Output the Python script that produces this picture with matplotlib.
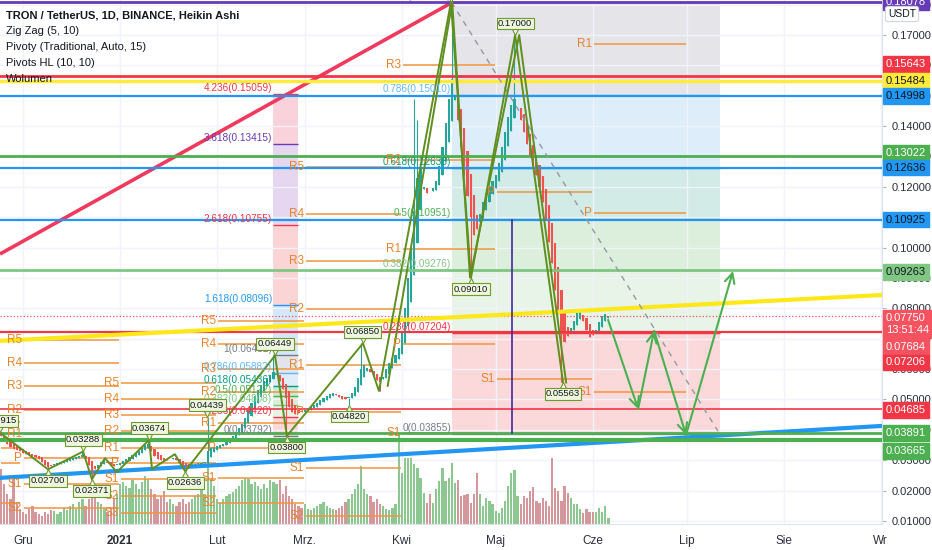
import matplotlib
matplotlib.use('Agg')
import matplotlib.pyplot as plt
import matplotlib.transforms as mtransforms
import numpy as np
import logging
logging.getLogger('matplotlib.font_manager').setLevel(logging.ERROR)

plt.rcParams['font.family'] = ['Liberation Sans', 'DejaVu Sans']

# ---------------- data (day 0 = 1 Dec 2020) ----------------
first_day = -8
first_open = 0.0392
closes = [
    0.0385, 0.0380, 0.0372, 0.0355, 0.0345, 0.0338, 0.0335, 0.0330,
    0.0325, 0.0322, 0.0318, 0.0315, 0.0310, 0.0305, 0.0295, 0.0285, 0.0278, 0.0282,
    0.0288, 0.0292, 0.0295, 0.0298, 0.0300, 0.0303, 0.0307, 0.0310, 0.0315, 0.0318,
    0.0308, 0.0285, 0.0265, 0.0270, 0.0285, 0.0295, 0.0300, 0.0292, 0.0285, 0.0280,
    0.0285, 0.0290, 0.0298, 0.0305, 0.0312, 0.0318, 0.0325, 0.0332, 0.0340, 0.0350,
    0.0352, 0.0330, 0.0315, 0.0305, 0.0300, 0.0298, 0.0302, 0.0305, 0.0308, 0.0300,
    0.0292, 0.0285, 0.0280, 0.0283, 0.0285, 0.0288, 0.0290, 0.0292, 0.0295, 0.0330,
    0.0340, 0.0345, 0.0348, 0.0350, 0.0355, 0.0362, 0.0370, 0.0380, 0.0392, 0.0405,
    0.0420, 0.0440, 0.0465, 0.0490, 0.0510, 0.0530, 0.0548, 0.0560, 0.0570, 0.0580,
    0.0590, 0.0580, 0.0560, 0.0535, 0.0505, 0.0475, 0.0460, 0.0452, 0.0455, 0.0460,
    0.0465, 0.0470, 0.0475, 0.0482, 0.0490, 0.0498, 0.0505, 0.0512, 0.0518, 0.0522,
    0.0515, 0.0508, 0.0503, 0.0500, 0.0505, 0.0520, 0.0540, 0.0570, 0.0600, 0.0615,
    0.0605, 0.0590, 0.0575, 0.0565, 0.0557, 0.0575, 0.0600, 0.0620, 0.0635, 0.0645,
    0.0670, 0.0720, 0.0800, 0.0900, 0.1000, 0.1120, 0.1230, 0.1260, 0.1200, 0.1180,
    0.1185, 0.1195, 0.1220, 0.1270, 0.1330, 0.1410, 0.1490, 0.1555, 0.1500, 0.1420,
    0.1330, 0.1240, 0.1170, 0.1100, 0.1040, 0.1060, 0.1110, 0.1150, 0.1180, 0.1200,
    0.1220, 0.1240, 0.1280, 0.1330, 0.1380, 0.1430, 0.1470, 0.1490, 0.1460, 0.1420,
    0.1380, 0.1340, 0.1300, 0.1270, 0.1240, 0.1200, 0.1150, 0.1090, 0.1020, 0.0950,
    0.0860, 0.0780, 0.0720, 0.0690, 0.0710, 0.0735, 0.0760, 0.0785, 0.0790, 0.0760,
    0.0730, 0.0705, 0.0712, 0.0730, 0.0755, 0.0775, 0.0780, 0.0775,
]
volumes = [
    50, 55, 40, 30, 25, 45, 20, 15,
    12, 10, 15, 18, 12, 10, 8, 12, 10, 14,
    13, 10, 12, 16, 14, 18, 20, 15, 22, 25,
    18, 25, 30, 28, 22, 20, 15, 12, 16, 25,
    30, 40, 42, 38, 36, 44, 40, 35, 42, 48,
    45, 35, 30, 25, 28, 33, 22, 25, 20, 18,
    22, 25, 20, 22, 25, 28, 30, 35, 30, 62,
    45, 38, 25, 22, 25, 28, 30, 32, 35, 38,
    44, 46, 45, 40, 42, 38, 35, 40, 36, 44,
    42, 40, 44, 30, 38, 28, 25, 20, 18, 16,
    20, 15, 14, 16, 18, 20, 22, 18, 16, 15,
    14, 16, 18, 22, 25, 30, 35, 40, 58, 35,
    30, 28, 22, 25, 20, 18, 15, 14, 16, 20,
    91, 51, 66, 66, 66, 60, 56, 46, 31, 21,
    30, 21, 35, 43, 56, 43, 46, 61, 41, 44,
    28, 29, 30, 21, 30, 51, 30, 18, 26, 23,
    20, 13, 11, 16, 23, 38, 51, 54, 28, 20,
    28, 26, 33, 37, 23, 21, 26, 23, 18, 66,
    36, 33, 23, 38, 31, 26, 20, 20, 15, 11,
    15, 12, 12, 12, 16, 12, 18, 6,
]
wick_hi = {-8: 0.03915, 19: 0.03288, 40: 0.03674, 59: 0.04439, 80: 0.06449,
           108: 0.0685, 125: 0.1490, 126: 0.1420, 137: 0.18078, 157: 0.1700}
wick_lo = {8: 0.0270, 22: 0.02371, 52: 0.02636, 59: 0.0285, 84: 0.0380,
           104: 0.0482, 114: 0.0528, 143: 0.0901, 172: 0.05563}

month_days = [0, 31, 62, 90, 121, 151, 182, 212, 243, 274]
month_labels = ['Gru', '2021', 'Lut', 'Mrz.', 'Kwi', 'Maj', 'Cze', 'Lip', 'Sie', 'Wr']

# horizontal lines: price, color, width, style
hline_prices = [0.18078, 0.15643, 0.15484, 0.14998, 0.13022, 0.12636, 0.10925,
                0.09263, 0.07750, 0.07206, 0.04685, 0.03891, 0.03665]
hline_colors = ['#673ab7', '#f23645', '#ffeb3b', '#2196f3', '#4caf50', '#2196f3', '#2196f3',
                '#81c784', '#f7525f', '#f23645', '#f23645', '#4caf50', '#4caf50']
hline_widths = [2, 2, 2.5, 1.6, 2, 1.6, 1.6, 2, 0.9, 1.6, 1.2, 2, 3]
hline_styles = ['-', '-', '-', '-', '-', '-', '-', '-', ':', '-', '-', '-', '-']

# right price-scale boxes: text, price, box color, text color, vertical shift (px)
box_texts = ['0.18078', '0.15643', '0.15484', '0.14998', '0.13022', '0.12636', '0.10925',
             '0.09263', '0.07750\n13:51:44', '0.07684', '0.07206', '0.04685', '0.03891', '0.03665']
box_prices = [0.18078, 0.15643, 0.15484, 0.14998, 0.13022, 0.12636, 0.10925,
              0.09263, 0.07750, 0.07684, 0.07206, 0.04685, 0.03891, 0.03665]
box_colors = ['#673ab7', '#f23645', '#ffeb3b', '#2196f3', '#4caf50', '#2196f3', '#2196f3',
              '#81c784', '#f7525f', '#f7525f', '#f23645', '#f23645', '#4caf50', '#4caf50']
box_tcolors = ['white', 'white', '#131722', '#131722', 'white', '#131722', '#131722',
               '#131722', 'white', 'white', 'white', 'white', 'white', 'white']
box_shift = [0, 12, 0, 0, 3, 0, 0, -2, -8, -29, -30, -1, 0, -11]

# pivot points per period
pivot_periods = [(-7.4, -0.6), (0, 31), (31, 62), (62, 90), (90, 121), (121, 151), (151, 182), (182, 212)]
pivot_names = [
    ['', '', '', ''],
    ['R5', 'R4', 'R3', 'R2', 'R1', 'P', 'S1', 'S2'],
    ['R5', 'R4', 'R3', 'R2', 'R1', 'P', 'S1', 'S2', 'S3'],
    ['R5', 'R4', 'R3', 'R2', 'R1', 'P', 'S1', 'S2'],
    ['R5', 'R4', 'R3', 'R2', 'R1', 'P', 'S1', 'S2'],
    ['R3', 'R2', 'R1', 'P', 'S1'],
    ['P', 'S1'],
    ['R1', 'P', 'S1'],
]
pivot_values = [
    [0.0425, 0.0340, 0.0291, 0.0159],
    [0.0696, 0.0620, 0.0544, 0.0465, 0.0386, 0.0307, 0.0222, 0.0143],
    [0.0554, 0.0502, 0.0449, 0.0396, 0.0340, 0.0291, 0.0238, 0.0182, 0.0126],
    [0.0758, 0.0683, 0.0600, 0.0525, 0.0423, 0.0340, 0.0242, 0.0159],
    [0.1265, 0.1111, 0.0956, 0.0798, 0.0614, 0.0459, 0.0274, 0.0117],
    [0.1601, 0.1288, 0.0996, 0.0683, 0.0389],
    [0.1183, 0.0567],
    [0.1670, 0.1114, 0.0525],
]

# fib retracement (right) and extension (left)
fibR_levels = ['1', '0.786', '0.618', '0.5', '0.382', '0.236', '0']
fibR_prices = [0.18078, 0.15010, 0.12636, 0.10951, 0.09276, 0.07204, 0.03855]
fibR_span = (137.06, 222.7)
fibR_tcolors = ['#787b86', '#64b5f6', '#089981', '#4caf50', '#81c784', '#f23645', '#787b86']
fibR_fills = ['#e4e4e9', '#ddedfa', '#d2ebe6', '#dcefdd', '#e7f4e7', '#fbd9da']

fibL_levels = ['4.236', '3.618', '2.618', '1.618', '1', '0.786', '0.618', '0.5', '0.382', '0.236', '0']
fibL_prices = [0.15059, 0.13415, 0.10755, 0.08096, 0.06452, 0.05882, 0.05436, 0.05122, 0.04808, 0.04420, 0.03792]
fibL_span = (79.87, 87.86)
fibL_tcolors = ['#f23645', '#673ab7', '#f23645', '#2196f3', '#787b86', '#64b5f6', '#089981',
                '#4caf50', '#81c784', '#f23645', '#787b86']
fibL_fills = ['#f9d2db', '#e6d6ef', '#fbd5d6', '#d4e8fa', '#e2e4ea', '#dfedf9', '#cde9d8',
              '#d9eed9', '#e6f4e6', '#fad8d9']

# zigzags
zzA_days = [-7.4, 8, 19.2, 22, 26.2, 30.0, 40.3, 41.2, 48.5, 51.8, 80.5, 84.3, 108.6, 113.7,
            136.7, 143.1, 157.2, 172.5]
zzA_prices = [0.03915, 0.0270, 0.03288, 0.02371, 0.0307, 0.0261, 0.03674, 0.0271, 0.0320, 0.02636,
              0.06449, 0.0380, 0.0685, 0.0528, 0.18078, 0.0901, 0.1700, 0.05563]
zzB_days = [116.5, 137.1, 142.8, 158.5, 173.5]
zzB_prices = [0.0545, 0.18078, 0.0901, 0.1700, 0.0556]

hl_days = [-7.4, 8, 19.2, 22, 40.3, 51.8, 58.8, 80.5, 84.3, 104.2, 108.6, 136.7, 143.1, 157.2, 172.5]
hl_prices = [0.03915, 0.02700, 0.03288, 0.02371, 0.03674, 0.02636, 0.04439, 0.06449, 0.03800,
             0.04820, 0.06850, 0.18078, 0.09010, 0.17000, 0.05563]
hl_high = [1, 0, 1, 0, 1, 0, 1, 1, 0, 0, 1, 1, 0, 1, 0]

# trend lines: (day0, price0, day1, price1)
red_trend = (-7.35, 0.0979, 136.7, 0.1805)
yellow_trend = (-7.35, 0.0693, 274.4, 0.0844)
blue_trend = (-7.35, 0.0242, 274.4, 0.0413)
dashed_trend = (136.9, 0.18078, 222.0, 0.0396)
purple_vline = (156.2, 0.1091, 0.03886)
proj_days = [186.9, 196.5, 201.6, 211.8, 226.8]
proj_prices = [0.0762, 0.0469, 0.0726, 0.0383, 0.0923]

# ---------------- figure ----------------
W, H = 932, 550
fig = plt.figure(figsize=(W / 100, H / 100), dpi=100)
fig.patch.set_facecolor('white')
ax = fig.add_axes([0, 26 / H, 882 / W, 524 / H])
XMIN, XMAX = -7.35, 274.4
YMIN, YMAX = 0.00901, 0.18152
ax.set_xlim(XMIN, XMAX)
ax.set_ylim(YMIN, YMAX)

# grid
ax.set_xticks(month_days)
ax.set_xticklabels(month_labels)
yt = [round(0.01 * k, 2) for k in range(1, 19)]
ax.set_yticks(yt)
ax.set_yticklabels(['%.5f' % v for v in yt])
ax.grid(True, color='#f0f3fa', lw=1, zorder=0)
ax.set_axisbelow(True)
ax.yaxis.tick_right()
ax.tick_params(axis='y', length=3, color='#b2b5be', pad=4, labelsize=8, labelcolor='#2a2e39')
ax.tick_params(axis='x', length=0, pad=8, labelsize=8.5, labelcolor='#2a2e39')
for lbl in ax.get_xticklabels():
    if lbl.get_text() == '2021':
        lbl.set_fontweight('bold')
for s in ['left', 'top']:
    ax.spines[s].set_visible(False)
ax.spines['right'].set_color('#e0e3eb')
ax.spines['bottom'].set_color('#e0e3eb')

# fib fills (left extension)
for i in range(len(fibL_prices) - 1):
    ax.fill_between(fibL_span, fibL_prices[i + 1], fibL_prices[i], color=fibL_fills[i], lw=0, zorder=0.5)
for i, p in enumerate(fibL_prices):
    ax.hlines(p, fibL_span[0], fibL_span[1], color=fibL_tcolors[i], lw=1, zorder=0.6)
    ax.annotate('%s(%.5f)' % (fibL_levels[i], p), xy=(fibL_span[0], p), xytext=(-1, 1),
                textcoords='offset pixels', ha='right', va='bottom', fontsize=7.2,
                color=fibL_tcolors[i], zorder=6)

# fib fills (right retracement)
for i in range(len(fibR_prices) - 1):
    ax.fill_between(fibR_span, fibR_prices[i + 1], fibR_prices[i], color=fibR_fills[i], lw=0, zorder=0.5)
for i, p in enumerate(fibR_prices):
    ax.hlines(p, fibR_span[0], fibR_span[1], color=fibR_tcolors[i], lw=1, zorder=0.6)
    ax.annotate('%s(%.5f)' % (fibR_levels[i], p), xy=(fibR_span[0], p), xytext=(-1, 1),
                textcoords='offset pixels', ha='right', va='bottom', fontsize=7.2,
                color=fibR_tcolors[i], zorder=6)

# volume
n = min(len(closes), len(volumes))
days = np.arange(first_day, first_day + n)
c = np.array(closes[:n])
o = np.empty(n)
o[0] = first_open
for i in range(1, n):
    o[i] = (o[i - 1] + c[i - 1]) / 2
hi = np.maximum(o, c)
lo = np.minimum(o, c)
for d, v in wick_hi.items():
    k = d - first_day
    if 0 <= k < n:
        hi[k] = max(hi[k], v)
for d, v in wick_lo.items():
    k = d - first_day
    if 0 <= k < n:
        lo[k] = min(lo[k], v)
up = c >= o
vol_colors = ['#8cc792' if u else '#d3979c' for u in up]
ax.bar(days, np.array(volumes[:n]) / 524.0, width=0.72, bottom=0, color=vol_colors,
       transform=ax.get_xaxis_transform(), zorder=1)
ax.set_xlim(XMIN, XMAX)
ax.set_ylim(YMIN, YMAX)

# pivots
orange = '#f0953f'
for (s, e), names, vals in zip(pivot_periods, pivot_names, pivot_values):
    for nm, v in zip(names, vals):
        ax.hlines(v, s + 0.3, e - 0.3, color=orange, lw=1.1, zorder=2)
        if nm:
            ax.annotate(nm, xy=(s, v), xytext=(-1, 0), textcoords='offset pixels',
                        ha='right', va='center', fontsize=8.5, color='#e8832b', zorder=6)

# trend lines
ax.plot(red_trend[0::2], red_trend[1::2], color='#ef3a5d', lw=2.6, zorder=2.5, solid_capstyle='butt')
ax.plot(blue_trend[0::2], blue_trend[1::2], color='#2196f3', lw=3, zorder=2.5)

# candles
ccol = np.where(up, '#26a69a', '#ef5350')
ax.vlines(days, lo, hi, colors=ccol, lw=0.8, zorder=3)
body_h = np.maximum(np.abs(c - o), 0.0003)
ax.bar(days, body_h, bottom=np.minimum(o, c), width=0.7, color=ccol, zorder=3.1)

# horizontal lines
for p, col, lw, ls in zip(hline_prices, hline_colors, hline_widths, hline_styles):
    ax.axhline(p, color=col, lw=lw, ls=ls, zorder=3.5)
ax.plot(yellow_trend[0::2], yellow_trend[1::2], color='#ffe81a', lw=3, zorder=3.6)
ax.plot(dashed_trend[0::2], dashed_trend[1::2], color='#9598a1', lw=1, ls=(0, (4, 4)), zorder=3.6)
ax.plot([purple_vline[0], purple_vline[0]], purple_vline[1:], color='#4527a0', lw=1.2, zorder=3.6)

# zigzags
zz_col = '#5f8f1f'
ax.plot(zzA_days, zzA_prices, color=zz_col, lw=1.4, zorder=4)
ax.plot(zzB_days, zzB_prices, color=zz_col, lw=1.4, zorder=4)

# projection arrows
for i in range(len(proj_days) - 1):
    ax.annotate('', xy=(proj_days[i + 1], proj_prices[i + 1]), xytext=(proj_days[i], proj_prices[i]),
                arrowprops=dict(arrowstyle='->,head_length=0.7,head_width=0.35', color='#4caf50',
                                lw=1.5, shrinkA=0, shrinkB=0), zorder=4.5)

# pivot HL labels
for d, p, h in zip(hl_days, hl_prices, hl_high):
    dy = 6 if h else -6
    tr = mtransforms.offset_copy(ax.transData, fig=fig, y=dy / 2, units='dots')
    ax.plot([d], [p], marker='v' if h else '^', ms=5, color='#f5f9e8', mec='#6f9a2e', mew=0.8,
            transform=tr, zorder=6, clip_on=False)
    ax.annotate('%.5f' % p, xy=(d, p), xytext=(0, dy + (1 if h else -1)), textcoords='offset pixels',
                ha='center', va='bottom' if h else 'top', fontsize=6.8, color='#131722', zorder=7,
                bbox=dict(boxstyle='square,pad=0.15', fc='#eef6dc', ec='#6f9a2e', lw=0.8),
                annotation_clip=False)

# right scale boxes
ytr = ax.get_yaxis_transform()
for t, p, fc, tc, sh in zip(box_texts, box_prices, box_colors, box_tcolors, box_shift):
    ax.annotate(t, xy=(1, p), xycoords=ytr, xytext=(4, sh), textcoords='offset pixels',
                ha='left', va='center', fontsize=8, color=tc, zorder=20, linespacing=1.3,
                bbox=dict(boxstyle='square,pad=0.25', fc=fc, ec=fc), annotation_clip=False)
fig.text(888 / W, 1 - 14 / H, 'USDT', fontsize=7.5, color='#131722', va='center', ha='left',
         bbox=dict(boxstyle='round,pad=0.25', fc='white', ec='#d1d4dc', lw=0.8), zorder=30)

# legend text
legend_lines = ['TRON / TetherUS, 1D, BINANCE, Heikin Ashi', 'Zig Zag (5, 10)',
                'Pivoty (Traditional, Auto, 15)', 'Pivots HL (10, 10)', 'Wolumen']
for i, t in enumerate(legend_lines):
    fig.text(6 / W, 1 - (15 + 16 * i) / H, t, fontsize=8, color='#131722', va='center',
             ha='left', fontweight='semibold' if i == 0 else 'normal', zorder=30)

fig.savefig('out.png', dpi=100, facecolor='white')
